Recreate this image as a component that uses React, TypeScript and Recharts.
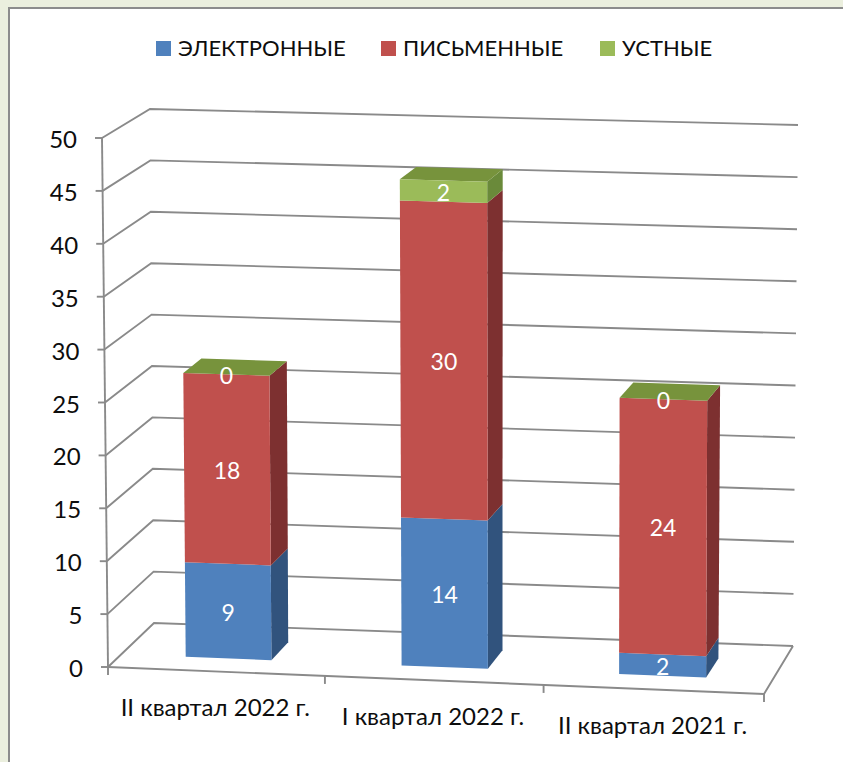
import React from "react";
import { BarChart, Bar, XAxis, YAxis, CartesianGrid, Legend, LabelList } from "recharts";

const categories = ["II квартал 2022 г.", "I квартал 2022 г.", "II квартал 2021 г."];
const electronic = [9, 14, 2];
const written = [18, 30, 24];
const oral = [0, 2, 0];
const yTicks = [0, 5, 10, 15, 20, 25, 30, 35, 40, 45, 50];
const seriesNames = ["ЭЛЕКТРОННЫЕ", "ПИСЬМЕННЫЕ", "УСТНЫЕ"];
const frontColors = ["#4f81bd", "#c0504d", "#9bbb59"];
const sideColors = ["#31537d", "#7d3030", "#6a8a3a"];
const topColor = "#77933c";
const axisColor = "#8a8a8a";
const textColor = "#0d0d0d";
const fontFamily = "Lato, 'Open Sans', sans-serif";

const data = categories.map((category, i) => ({
  category,
  electronic: electronic[i],
  written: written[i],
  oral: oral[i],
}));

const LEFT = 108;
const RIGHT = 764;
const TOP = 138;
const BOTTOM = 667;
const DEPTH_FRONT = 0.29;
const DEPTH_BACK = 0.69;
const PERSPECTIVE = 0.012;
const LINE_WIDTH = 1.9;

// corners of the projected 3D box: [u][v][d]
const C: Record<string, [number, number]> = {
  "000": [108, 667],
  "010": [102, 138],
  "001": [154, 623],
  "011": [150, 109],
  "100": [764, 694],
  "110": [766, 156],
  "101": [793, 646],
  "111": [798, 125],
};

function project(px: number, py: number, d: number): [number, number] {
  const raw = (px - LEFT) / (RIGHT - LEFT);
  const u = raw - PERSPECTIVE * raw * (1 - raw);
  const v = (BOTTOM - py) / (BOTTOM - TOP);
  const res: [number, number] = [0, 0];
  for (const a of [0, 1]) for (const b of [0, 1]) for (const c of [0, 1]) {
    const w = (a ? u : 1 - u) * (b ? v : 1 - v) * (c ? d : 1 - d);
    const p = C[`${a}${b}${c}`];
    res[0] += w * p[0];
    res[1] += w * p[1];
  }
  return res;
}

const pts = (list: [number, number][]) => list.map((p) => `${p[0].toFixed(1)},${p[1].toFixed(1)}`).join(" ");

const makeShape = (index: number, withTop: boolean) => (props: any) => {
  const { x, y, width, height } = props;
  const x2 = x + width;
  const y2 = y + height;
  const front = [project(x, y, DEPTH_FRONT), project(x2, y, DEPTH_FRONT), project(x2, y2, DEPTH_FRONT), project(x, y2, DEPTH_FRONT)];
  const side = [project(x2, y, DEPTH_FRONT), project(x2, y, DEPTH_BACK), project(x2, y2, DEPTH_BACK), project(x2, y2, DEPTH_FRONT)];
  const top = [project(x, y, DEPTH_FRONT), project(x, y, DEPTH_BACK), project(x2, y, DEPTH_BACK), project(x2, y, DEPTH_FRONT)];
  return (
    <g>
      <polygon points={pts(side)} fill={sideColors[index]} />
      {withTop && <polygon points={pts(top)} fill={topColor} />}
      <polygon points={pts(front)} fill={frontColors[index]} />
    </g>
  );
};

const barLabel = (props: any) => {
  const { x, y, width, height, value } = props;
  const [cx, cy] = project(x + width / 2, y + height / 2, DEPTH_FRONT);
  return (
    <text x={cx} y={cy + 9.5} textAnchor="middle" fill="#ffffff" fontSize={23} fontFamily={fontFamily}>
      {value}
    </text>
  );
};

const gridLine = (props: any) => {
  const y = props.y1;
  const a = project(LEFT, y, 0);
  const b = project(LEFT, y, 1);
  const c = project(RIGHT, y, 1);
  const isFloor = Math.abs(y - BOTTOM) < 0.5;
  const d = project(RIGHT, y, 0);
  return (
    <g key={props.key}>
      <polyline points={pts([a, b, c])} fill="none" stroke={axisColor} strokeWidth={LINE_WIDTH} />
      {isFloor && <polyline points={pts([c, d, a])} fill="none" stroke={axisColor} strokeWidth={LINE_WIDTH} />}
    </g>
  );
};

const YTick = (props: any) => {
  const { y, payload } = props;
  const p = project(LEFT, y, 0);
  const next = project(LEFT, BOTTOM, 0);
  const top = project(LEFT, TOP, 0);
  return (
    <g>
      {payload.value === 50 && <line x1={top[0]} y1={top[1]} x2={next[0]} y2={next[1]} stroke={axisColor} strokeWidth={LINE_WIDTH} />}
      <line x1={p[0] - 7} y1={p[1]} x2={p[0]} y2={p[1]} stroke={axisColor} strokeWidth={LINE_WIDTH} />
      <text x={p[0] - 25} y={p[1] + 10} textAnchor="end" fill={textColor} fontSize={24} fontFamily={fontFamily}>
        {payload.value}
      </text>
    </g>
  );
};

const XTick = (props: any) => {
  const { x, payload, index } = props;
  const band = (RIGHT - LEFT) / categories.length;
  const left = project(x - band / 2, BOTTOM, 0);
  const right = project(x + band / 2, BOTTOM, 0);
  const c = project(x, BOTTOM, 0);
  return (
    <g>
      <line x1={left[0]} y1={left[1]} x2={left[0]} y2={left[1] + 8} stroke={axisColor} strokeWidth={LINE_WIDTH} />
      {index === categories.length - 1 && (
        <line x1={right[0]} y1={right[1]} x2={right[0]} y2={right[1] + 8} stroke={axisColor} strokeWidth={LINE_WIDTH} />
      )}
      <text x={c[0] - 1} y={c[1] + 45} textAnchor="middle" fill={textColor} fontSize={24} fontFamily={fontFamily}>
        {payload.value}
      </text>
    </g>
  );
};

const legendWidths = [225, 219, 120];

const LegendContent = () => (
  <div style={{ display: "flex", fontFamily, fontSize: 22, color: textColor, lineHeight: "26px" }}>
    {seriesNames.map((name, i) => (
      <div key={name} style={{ width: legendWidths[i], display: "flex", alignItems: "center" }}>
        <span style={{ width: 15, height: 15, background: frontColors[i], marginRight: 7, display: "inline-block" }} />
        <span>{name}</span>
      </div>
    ))}
  </div>
);

export default function App() {
  return (
    <div style={{ position: "absolute", left: 0, top: 0, width: 843, height: 762, background: "#ebefde", overflow: "hidden" }}>
      <div
        style={{
          position: "absolute",
          left: 8,
          top: 7,
          width: 840,
          height: 780,
          background: "#ffffff",
          border: "2px solid #8c8c8c",
          boxSizing: "border-box",
        }}
      />
      <div style={{ position: "absolute", left: 0, top: 0 }}>
        <BarChart
          width={843}
          height={762}
          data={data}
          barCategoryGap="30%"
          margin={{ left: LEFT - 60, right: 843 - RIGHT, top: TOP, bottom: 762 - BOTTOM - 30 }}
        >
          <CartesianGrid vertical={false} horizontal={gridLine} />
          <XAxis dataKey="category" height={30} axisLine={false} tickLine={false} tick={XTick} interval={0} />
          <YAxis width={60} domain={[0, 50]} ticks={yTicks} axisLine={false} tickLine={false} tick={YTick} interval={0} />
          <Legend
            layout="horizontal"
            verticalAlign="middle"
            align="center"
            content={LegendContent}
            wrapperStyle={{ position: "absolute", left: 156, top: 35, width: 600 }}
          />
          <Bar dataKey="electronic" name={seriesNames[0]} stackId="s" isAnimationActive={false} fill={frontColors[0]} shape={makeShape(0, false)}>
            <LabelList dataKey="electronic" content={barLabel} />
          </Bar>
          <Bar dataKey="written" name={seriesNames[1]} stackId="s" isAnimationActive={false} fill={frontColors[1]} shape={makeShape(1, false)}>
            <LabelList dataKey="written" content={barLabel} />
          </Bar>
          <Bar dataKey="oral" name={seriesNames[2]} stackId="s" isAnimationActive={false} fill={frontColors[2]} shape={makeShape(2, true)}>
            <LabelList dataKey="oral" content={barLabel} />
          </Bar>
        </BarChart>
      </div>
    </div>
  );
}
